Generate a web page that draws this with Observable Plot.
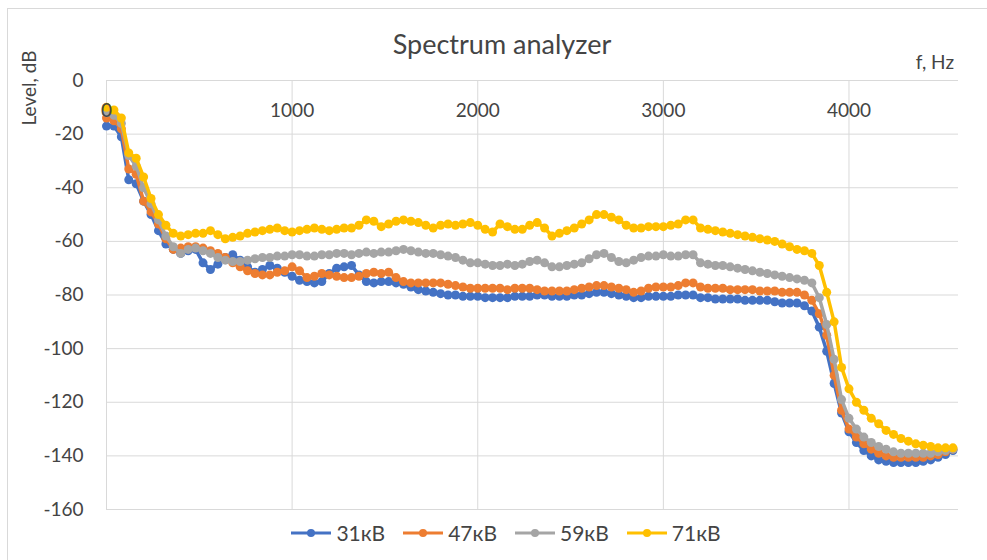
<!DOCTYPE html>
<html>
<head>
<meta charset="utf-8">
<script src="https://cdn.jsdelivr.net/npm/d3@7"></script>
<script src="https://cdn.jsdelivr.net/npm/@observablehq/plot@0.6"></script>
<style>
  html, body { margin: 0; padding: 0; background: #fff; }
  #chart {
    position: relative; width: 987px; height: 560px; overflow: hidden;
    font-family: Lato, "Open Sans", "Noto Sans", sans-serif; color: #444;
  }
  #frame {
    position: absolute; left: 7px; top: 8px; width: 1000px; height: 600px;
    border: 1px solid #d9d9d9; box-sizing: border-box;
  }
  #plot svg { position: absolute; left: 0; top: 0; }
  .lbl { position: absolute; white-space: nowrap; line-height: 1; }
  #title { left: 0; width: 1004px; top: 30px; text-align: center; font-size: 27px; }
  #xname { right: 33px; top: 52px; font-size: 19px; }
  #yname { left: 28px; top: 88px; font-size: 19px; transform: translate(-50%, -50%) rotate(-90deg); }
  #legend { position: absolute; left: 0; width: 1012px; top: 522px; display: flex; justify-content: center; gap: 18px; }
  .item { display: flex; align-items: center; gap: 5px; font-size: 21px; line-height: 22px; }
  .item svg { display: block; }
</style>
</head>
<body>
<div id="chart">
  <div id="frame"></div>
  <div id="plot"></div>
  <div class="lbl" id="title">Spectrum analyzer</div>
  <div class="lbl" id="xname">f, Hz</div>
  <div class="lbl" id="yname">Level, dB</div>
  <div id="legend"></div>
</div>
<script>
// Analyzer frequency bins, Hz
const freq = [
  0, 40, 80, 120, 160, 200, 240, 280, 320, 360, 400, 440, 480, 520, 560, 600, 640, 680, 720, 760,
  800, 840, 880, 920, 960, 1000, 1040, 1080, 1120, 1160, 1200, 1240, 1280, 1320, 1360, 1400, 1440, 1480, 1520, 1560,
  1600, 1640, 1680, 1720, 1760, 1800, 1840, 1880, 1920, 1960, 2000, 2040, 2080, 2120, 2160, 2200, 2240, 2280, 2320, 2360,
  2400, 2440, 2480, 2520, 2560, 2600, 2640, 2680, 2720, 2760, 2800, 2840, 2880, 2920, 2960, 3000, 3040, 3080, 3120, 3160,
  3200, 3240, 3280, 3320, 3360, 3400, 3440, 3480, 3520, 3560, 3600, 3640, 3680, 3720, 3760, 3800, 3840, 3880, 3920, 3960,
  4000, 4040, 4080, 4120, 4160, 4200, 4240, 4280, 4320, 4360, 4400, 4440, 4480, 4520, 4560
];

// Levels, dB, one array per voltage
const kv31 = [
  -17, -17, -21, -37, -38.5, -45, -50, -56, -61, -63, -64.5, -63.5, -63, -68, -70.5, -68.5, -66, -65, -67, -69.5,
  -71.5, -70.5, -69, -70, -71.5, -73, -74.5, -75, -75.5, -75, -72, -70, -69.5, -69, -72.5, -75, -75.5, -75, -75, -75.5,
  -76, -77, -78, -78.5, -79, -79.5, -80, -80, -80.5, -80.5, -80.5, -81, -81, -81, -81, -80.5, -80.5, -80.5, -80, -80,
  -80.5, -80.5, -80.5, -80, -80, -79.5, -79, -79, -79.5, -80, -80.5, -81, -81, -80.5, -80.5, -80.5, -80.5, -80, -80, -80,
  -81, -81, -81.5, -81.5, -81.5, -81.5, -82, -82, -82, -82, -82.5, -83, -83, -83, -84, -86, -92, -101, -113, -124,
  -131, -135, -138, -140, -141.5, -142, -142.5, -142.5, -142.5, -142.5, -142, -141.5, -140.5, -139.5, -138
];
const kv47 = [
  -14, -15, -18, -33, -35, -45, -49, -53.5, -59, -63, -62.5, -62, -62, -62.5, -63.5, -64.5, -66, -68, -69.5, -71,
  -72, -72.5, -72.5, -71.5, -71, -69.5, -71, -73.5, -73, -72, -72.5, -73, -73.5, -73.5, -73, -72, -71.5, -72, -71.5, -73.5,
  -75, -75.5, -75.5, -75.5, -75.5, -75.5, -76, -76.5, -77, -77.5, -77.5, -77.5, -77.5, -77.5, -78, -77.5, -77.5, -77.5, -78, -78.5,
  -78.5, -78.5, -78.5, -78, -77.5, -77, -76.5, -76.5, -77, -77.5, -78, -79, -78.5, -77.5, -77, -77, -77, -76.5, -75.5, -75.5,
  -77, -77.5, -77.5, -77.5, -78, -78, -78, -78, -78.5, -78.5, -78.5, -79, -79, -79, -80, -82, -87, -95, -110, -123,
  -130, -133, -135.5, -137.5, -139, -140, -140.5, -140.5, -140.5, -140.5, -140.5, -140, -139.5, -138.5, -137.5
];
const kv59 = [
  -12, -13, -16, -28, -32, -40, -46, -52, -58, -62, -64.5, -63, -62.5, -63.5, -64.5, -66, -67, -67.5, -67.5, -67,
  -66.5, -66, -66, -65.5, -65.5, -65, -65, -65.5, -65.5, -65, -65, -64.5, -64.5, -65, -64.5, -64, -64.5, -64, -64, -63.5,
  -63, -63.5, -64, -64.5, -64.5, -65, -65.5, -66, -67, -68, -68, -68.5, -69, -69, -68.5, -69, -68.5, -67.5, -67, -68,
  -69.5, -69.5, -69, -68.5, -68, -66.5, -65, -64.5, -66, -67.5, -68, -67, -66, -65.5, -65.5, -65, -65.5, -65.5, -65, -65,
  -68, -68.5, -69, -69, -69.5, -70, -70.5, -71, -71.5, -72, -72.5, -73, -73.5, -74, -74.5, -75.5, -81, -91, -104, -119,
  -126, -130, -133, -135, -136.5, -137.5, -138.5, -139, -139, -139, -139, -139, -138.5, -138, -137.5
];
const kv71 = [
  -10, -11, -14, -27, -29, -36, -44, -50, -54, -57, -58, -57.5, -57, -57, -56, -57.5, -59, -58.5, -58, -57,
  -56.5, -56, -55.5, -55, -56, -56.5, -56, -55.5, -55, -55.5, -56, -55.5, -55, -55, -54, -52, -52.5, -54.5, -53.5, -52.5,
  -52, -52.5, -53, -54, -55, -54, -53.5, -54, -53.5, -53, -54, -55.5, -56.5, -53.5, -54.5, -55.5, -55.5, -54, -53, -55,
  -58, -57, -56, -55, -53.5, -52, -50, -50, -51, -52, -54, -55, -55, -54.5, -54.5, -54.5, -54, -53.5, -52, -52,
  -55, -55.5, -56, -56.5, -57, -57.5, -58, -58.5, -59, -59.5, -60, -61, -62, -63, -63.5, -64.5, -69, -79, -90, -107,
  -115, -120, -123, -126, -128, -130.5, -132, -133.5, -134.5, -135.5, -136, -136.5, -137, -137, -137
];

const seriesNames = ["31кВ", "47кВ", "59кВ", "71кВ"];
const seriesValues = [kv31, kv47, kv59, kv71];
const seriesColors = ["#4472C4", "#ED7D31", "#A5A5A5", "#FFC000"];
const xTicks = [0, 1000, 2000, 3000, 4000];
const yTicks = [0, -20, -40, -60, -80, -100, -120, -140, -160];

const textColor = "#444";
const gridColor = "#d9d9d9";

// Each series: a connecting line, then its circle markers on top
const seriesMarks = seriesValues.flatMap((vals, s) => {
  const rows = vals.map((v, i) => ({f: freq[i], level: v}));
  return [
    Plot.line(rows, {x: "f", y: "level", stroke: seriesColors[s], strokeWidth: 3.5}),
    Plot.dot(rows, {x: "f", y: "level", fill: seriesColors[s], r: 4.5, stroke: "none"})
  ];
});

const chart = Plot.plot({
  width: 987,
  height: 560,
  marginLeft: 106,
  marginRight: 29,
  marginTop: 80,
  marginBottom: 51,
  x: {domain: [0, 4590], axis: null},
  y: {domain: [-160, 0], axis: null},
  style: {background: "transparent", fontFamily: 'Lato, "Open Sans", sans-serif', overflow: "visible"},
  marks: [
    Plot.gridX(xTicks, {stroke: gridColor, strokeOpacity: 1, strokeWidth: 1}),
    Plot.gridY(yTicks, {stroke: gridColor, strokeOpacity: 1, strokeWidth: 1}),
    ...seriesMarks,
    Plot.text(xTicks, {x: d => d, frameAnchor: "top", lineAnchor: "middle", dy: 30,
      text: d => String(d), fontSize: 19, fill: textColor}),
    Plot.text(yTicks, {y: d => d, frameAnchor: "left", textAnchor: "end", dx: -23,
      text: d => String(d), fontSize: 19, fill: textColor})
  ]
});
document.getElementById("plot").appendChild(chart);

// Legend: line with a circle marker, then the series name
const legend = document.getElementById("legend");
seriesNames.forEach((name, s) => {
  const item = document.createElement("div");
  item.className = "item";
  item.innerHTML =
    `<svg width="40" height="12"><line x1="0" x2="40" y1="6" y2="6" stroke="${seriesColors[s]}" stroke-width="3"/>` +
    `<circle cx="20" cy="6" r="4" fill="${seriesColors[s]}"/></svg><span>${name}</span>`;
  legend.appendChild(item);
});
</script>
</body>
</html>
